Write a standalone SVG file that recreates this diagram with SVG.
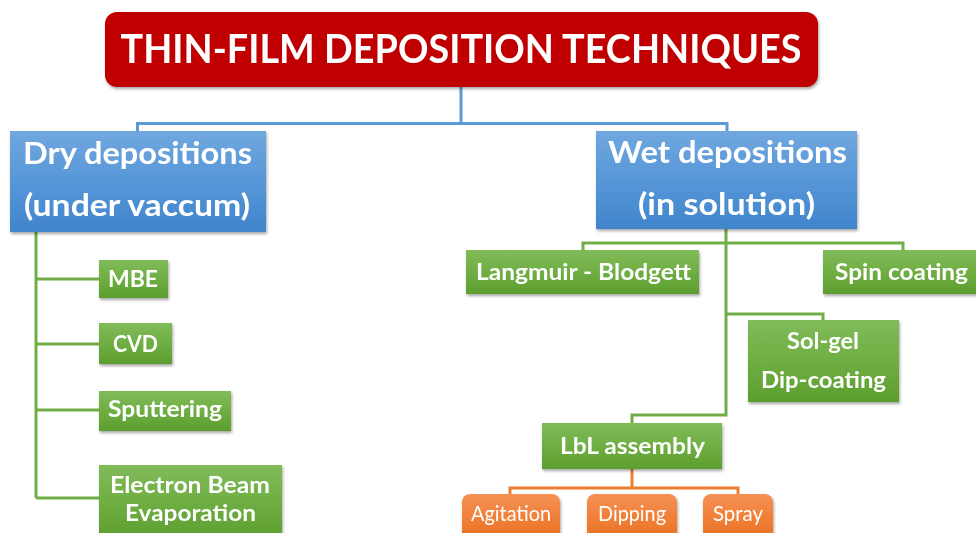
<svg xmlns="http://www.w3.org/2000/svg" width="976" height="533" viewBox="0 0 976 533">
<style>
text{font-family:Lato,"Open Sans","Liberation Sans",sans-serif;fill:#fff;text-anchor:middle}
.t{font-weight:700;font-size:41px}
.b{font-weight:700;font-size:30px}
.g{font-weight:700;font-size:23px}
.o{font-weight:400;font-size:22px}
.cb{fill:none;stroke:#5b9bd5;stroke-width:3}
.cg{fill:none;stroke:#70ad47;stroke-width:3}
.co{fill:none;stroke:#ed7d31;stroke-width:3}
</style>
<defs>
<linearGradient id="gb" x1="0" y1="0" x2="0" y2="1"><stop offset="0" stop-color="#71a7de"/><stop offset="0.5" stop-color="#5797d8"/><stop offset="1" stop-color="#3f84cc"/></linearGradient>
<linearGradient id="gg" x1="0" y1="0" x2="0" y2="1"><stop offset="0" stop-color="#80bb59"/><stop offset="0.5" stop-color="#6fae43"/><stop offset="1" stop-color="#5c9e2e"/></linearGradient>
<linearGradient id="go" x1="0" y1="0" x2="0" y2="1"><stop offset="0" stop-color="#f59156"/><stop offset="0.5" stop-color="#f07f36"/><stop offset="1" stop-color="#e56d1c"/></linearGradient>
<filter id="sh" x="-10%" y="-10%" width="120%" height="130%"><feDropShadow dx="1" dy="2" stdDeviation="1.5" flood-color="#000" flood-opacity="0.35"/></filter>
</defs>
<g id="connectors">
<path class="cb" d="M461 86V123.5M137.5 131V123.5H727V131"/>
<path class="cg" d="M36 232V498M36 279H99M36 344H99M36 410H99M36 498H99"/>
<path class="cg" d="M726 229V415H632V423M583 250V243H903V250M726 314H823V320"/>
<path class="co" d="M632 469V488M510 494V488H738V494"/>
</g>
<g id="title" filter="url(#sh)"><rect x="105" y="12" width="713" height="75" rx="12" fill="#c00000"/><text class="t" x="461" y="63" textLength="681" lengthAdjust="spacingAndGlyphs">THIN-FILM DEPOSITION TECHNIQUES</text></g>
<g id="dry" filter="url(#sh)"><rect x="10" y="131" width="256" height="101" fill="url(#gb)"/><text class="b" x="137.5" y="164" textLength="229" lengthAdjust="spacingAndGlyphs">Dry depositions</text><text class="b" x="137" y="216" textLength="226" lengthAdjust="spacingAndGlyphs">(under vaccum)</text></g>
<g id="wet" filter="url(#sh)"><rect x="596" y="131" width="261" height="98" fill="url(#gb)"/><text class="b" x="727.5" y="163" textLength="239" lengthAdjust="spacingAndGlyphs">Wet depositions</text><text class="b" x="726.5" y="215" textLength="177" lengthAdjust="spacingAndGlyphs">(in solution)</text></g>
<g id="mbe" filter="url(#sh)"><rect x="99" y="260" width="69" height="38" fill="url(#gg)"/><text class="g" x="133" y="287" textLength="50" lengthAdjust="spacingAndGlyphs">MBE</text></g>
<g id="cvd" filter="url(#sh)"><rect x="99" y="323" width="73" height="41" fill="url(#gg)"/><text class="g" x="135.5" y="352" textLength="45" lengthAdjust="spacingAndGlyphs">CVD</text></g>
<g id="sputtering" filter="url(#sh)"><rect x="99" y="391" width="132" height="40" fill="url(#gg)"/><text class="g" x="165" y="417" textLength="114" lengthAdjust="spacingAndGlyphs">Sputtering</text></g>
<g id="ebeam" filter="url(#sh)"><rect x="99" y="465" width="183" height="75" fill="url(#gg)"/><text class="g" x="190" y="493" textLength="160" lengthAdjust="spacingAndGlyphs">Electron Beam</text><text class="g" x="190.5" y="521" textLength="131" lengthAdjust="spacingAndGlyphs">Evaporation</text></g>
<g id="langmuir" filter="url(#sh)"><rect x="466" y="250" width="233" height="44" fill="url(#gg)"/><text class="g" x="583.5" y="280" textLength="215" lengthAdjust="spacingAndGlyphs">Langmuir - Blodgett</text></g>
<g id="spin" filter="url(#sh)"><rect x="823" y="250" width="160" height="44" fill="url(#gg)"/><text class="g" x="901.5" y="280" textLength="133" lengthAdjust="spacingAndGlyphs">Spin coating</text></g>
<g id="solgel" filter="url(#sh)"><rect x="748" y="320" width="151" height="82" fill="url(#gg)"/><text class="g" x="823" y="349" textLength="72" lengthAdjust="spacingAndGlyphs">Sol-gel</text><text class="g" x="823.5" y="388" textLength="125" lengthAdjust="spacingAndGlyphs">Dip-coating</text></g>
<g id="lbl" filter="url(#sh)"><rect x="542" y="423" width="180" height="46" fill="url(#gg)"/><text class="g" x="632.5" y="454" textLength="145" lengthAdjust="spacingAndGlyphs">LbL assembly</text></g>
<g id="agitation" filter="url(#sh)"><rect x="462" y="494" width="98" height="50" rx="8" fill="url(#go)"/><text class="o" x="511" y="521" textLength="80" lengthAdjust="spacingAndGlyphs">Agitation</text></g>
<g id="dipping" filter="url(#sh)"><rect x="587" y="494" width="90" height="50" rx="8" fill="url(#go)"/><text class="o" x="632" y="521" textLength="68" lengthAdjust="spacingAndGlyphs">Dipping</text></g>
<g id="spray" filter="url(#sh)"><rect x="703" y="494" width="70" height="50" rx="8" fill="url(#go)"/><text class="o" x="738" y="521" textLength="50" lengthAdjust="spacingAndGlyphs">Spray</text></g>
</svg>
